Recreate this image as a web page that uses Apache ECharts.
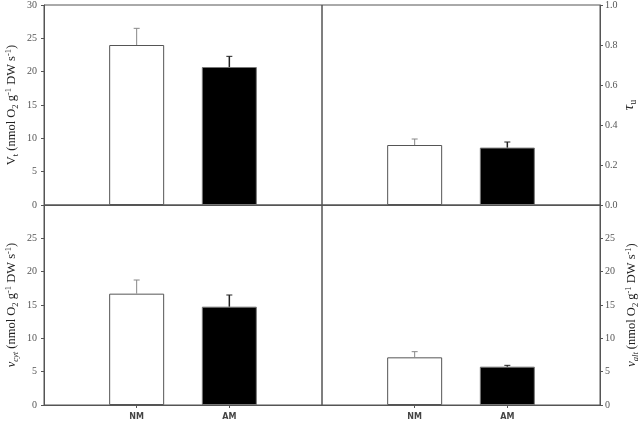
<!DOCTYPE html>
<html><head><meta charset="utf-8">
<script src="https://cdn.jsdelivr.net/npm/echarts@6/dist/echarts.min.js"></script>
<style>html,body{margin:0;padding:0;background:#fff}#c{width:641px;height:432px}</style>
</head><body><div id="c"></div>
<script>
// ---- data ----
const categories = ['', 'NM', 'AM', ''];
const barIndex = [1, 2];
const vtMean = [24.0, 20.7];
const vtErr = [2.5, 1.6];
const tauMean = [0.30, 0.287];
const tauErr = [0.03, 0.028];
const vcytMean = [16.7, 14.75];
const vcytErr = [2.05, 1.75];
const valtMean = [7.15, 5.75];
const valtErr = [0.85, 0.2];

const FONT = 'Liberation Serif';
const LINE = '#555';

const richStyle = {
  n: {fontFamily: FONT, fontSize: 12.5, color: '#222', lineHeight: 16},
  i: {fontFamily: FONT, fontSize: 12.5, color: '#222', fontStyle: 'italic', lineHeight: 16},
  sub: {fontFamily: FONT, fontSize: 8.5, color: '#222', verticalAlign: 'bottom', lineHeight: 9},
  isub: {fontFamily: FONT, fontSize: 8.5, color: '#222', fontStyle: 'italic', verticalAlign: 'bottom', lineHeight: 9},
  sup: {fontFamily: FONT, fontSize: 8.5, color: '#222', verticalAlign: 'top', lineHeight: 9},
  tau: {fontFamily: FONT, fontSize: 15, color: '#222', fontStyle: 'italic', lineHeight: 18},
  tsub: {fontFamily: FONT, fontSize: 10, color: '#222', verticalAlign: 'bottom', lineHeight: 10}
};
const unit = '{n| (nmol O}{sub|2}{n| g}{sup|-1}{n| DW s}{sup|-1}{n|)}';

const grids = [
  {left: 44, top: 5, width: 278, height: 200},
  {left: 322, top: 5, width: 278, height: 200},
  {left: 44, top: 205, width: 278, height: 200},
  {left: 322, top: 205, width: 278, height: 200}
].map(g => Object.assign({show: true, borderColor: LINE, borderWidth: 1, backgroundColor: 'transparent'}, g));

function xAxis(gi, bottom) {
  return {
    type: 'category', gridIndex: gi, data: categories, boundaryGap: false,
    axisLine: {lineStyle: {color: LINE, width: 1}},
    axisTick: {show: bottom, length: 3, lineStyle: {color: LINE},
      interval: (idx) => idx === 1 || idx === 2},
    axisLabel: {show: bottom, margin: 8, interval: 0, fontFamily: 'DejaVu Sans', fontWeight: 'bold', fontSize: 8, color: '#444'},
    splitLine: {show: false}
  };
}
function yAxis(gi, pos, max, interval, opts) {
  return Object.assign({
    type: 'value', gridIndex: gi, position: pos, min: 0, max: max, interval: interval,
    axisLine: {show: true, lineStyle: {color: LINE, width: 1}},
    axisTick: {show: true, length: 3, lineStyle: {color: LINE}},
    splitLine: {show: false},
    nameLocation: 'middle', nameRotate: 90, nameGap: 24,
    nameTextStyle: {rich: richStyle}
  }, opts);
}
const labelStyle = {fontFamily: FONT, fontSize: 10, color: '#555'};

function barSeries(gi, means) {
  const d = categories.map(() => '-');
  barIndex.forEach((ix, k) => {
    d[ix] = {value: means[k], itemStyle: k === 0
      ? {color: '#fff', borderColor: '#555', borderWidth: 1}
      : {color: '#000', borderColor: '#777', borderWidth: 1}};
  });
  return {type: 'bar', xAxisIndex: gi, yAxisIndex: gi, data: d, barWidth: 55, animation: false};
}
function errSeries(gi, means, errs) {
  return {
    type: 'custom', xAxisIndex: gi, yAxisIndex: gi, z: 5, animation: false,
    data: barIndex.map((ix, k) => [ix, means[k], means[k] + errs[k]]),
    renderItem: function (params, api) {
      const x = api.value(0), lo = api.value(1), hi = api.value(2);
      const p0 = api.coord([x, lo]), p1 = api.coord([x, hi]);
      const color = x === 1 ? '#888' : '#222';
      const w = x === 1 ? 1 : 1.5;
      return {type: 'group', children: [
        {type: 'line', shape: {x1: p0[0], y1: p0[1], x2: p1[0], y2: p1[1]}, style: {stroke: color, lineWidth: w}},
        {type: 'line', shape: {x1: p1[0] - 3, y1: p1[1], x2: p1[0] + 3, y2: p1[1]}, style: {stroke: color, lineWidth: 1}}
      ]};
    }
  };
}

const option = {
  animation: false,
  grid: grids,
  xAxis: [xAxis(0, false), xAxis(1, false), xAxis(2, true), xAxis(3, true)],
  yAxis: [
    yAxis(0, 'left', 30, 5, {axisLabel: Object.assign({margin: 7}, labelStyle),
      name: '{n|V}{sub|t}' + unit}),
    yAxis(1, 'right', 1.0, 0.2, {axisLabel: Object.assign({margin: 5, formatter: v => v.toFixed(1)}, labelStyle),
      name: '{tau|τ}{tsub|u}', nameGap: 20}),
    yAxis(2, 'left', 30, 5, {axisLabel: Object.assign({margin: 7, showMaxLabel: false}, labelStyle),
      name: '{i|v}{isub|cyt}' + unit}),
    yAxis(3, 'right', 30, 5, {axisLabel: Object.assign({margin: 5, showMaxLabel: false}, labelStyle),
      name: '{i|v}{isub|alt}' + unit})
  ],
  series: [
    barSeries(0, vtMean), errSeries(0, vtMean, vtErr),
    barSeries(1, tauMean), errSeries(1, tauMean, tauErr),
    barSeries(2, vcytMean), errSeries(2, vcytMean, vcytErr),
    barSeries(3, valtMean), errSeries(3, valtMean, valtErr)
  ]
};
const chart = echarts.init(document.getElementById('c'), null, {renderer: 'canvas'});
chart.setOption(option);
</script>
</body></html>
